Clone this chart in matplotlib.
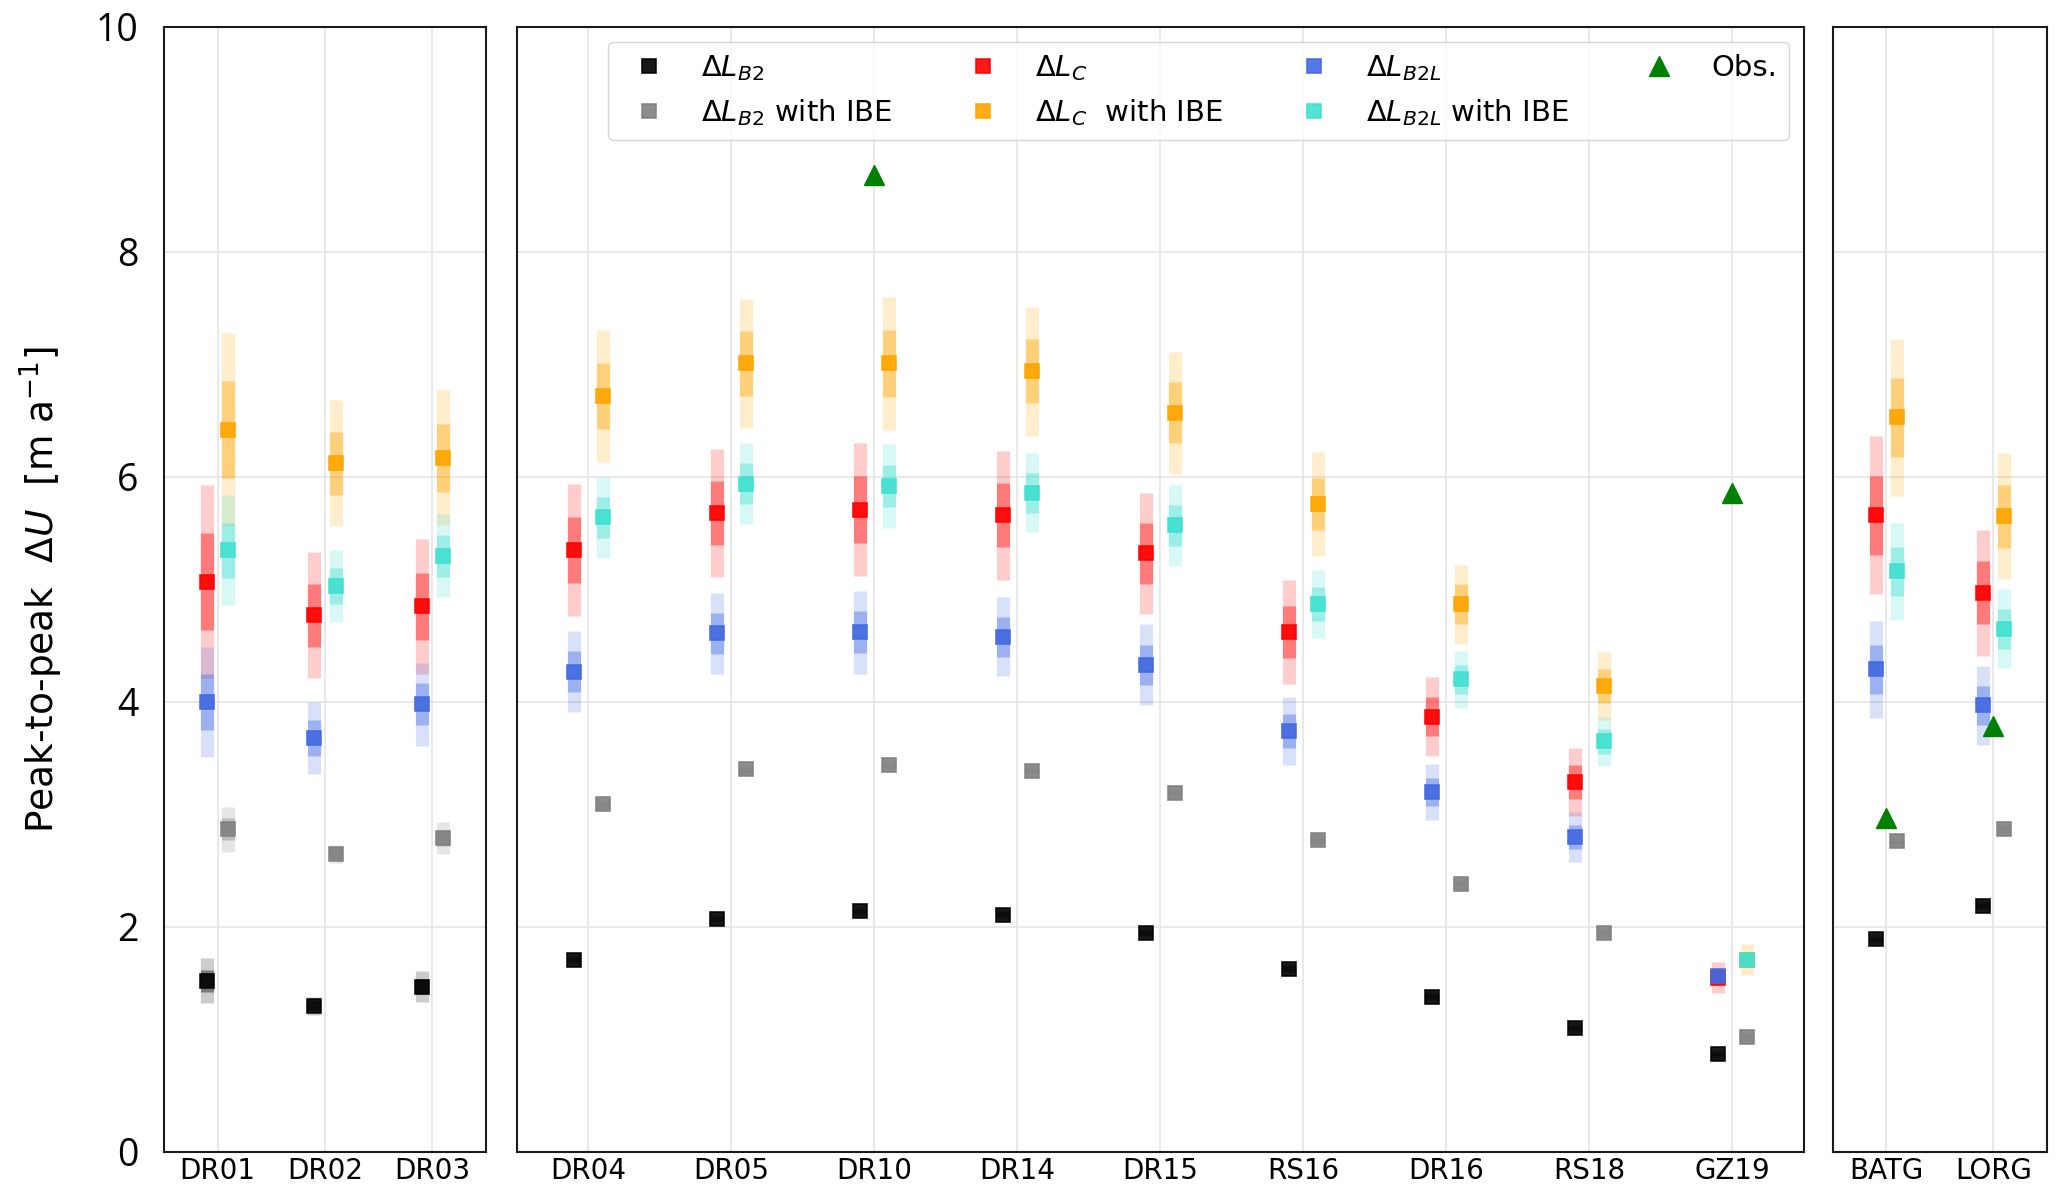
import matplotlib.pyplot as plt
import numpy as np

# sites, split over the three panels
sites_left = ['DR01', 'DR02', 'DR03']
sites_mid = ['DR04', 'DR05', 'DR10', 'DR14', 'DR15', 'RS16', 'DR16', 'RS18', 'GZ19']
sites_right = ['BATG', 'LORG']

# peak-to-peak values (m/a), same site order as above
dL_B2     = [1.52, 1.30, 1.47, 1.71, 2.07, 2.14, 2.11, 1.95, 1.63, 1.38, 1.10, 0.87, 1.89, 2.19]
dL_B2_sig = [0.10, 0.04, 0.07, 0.02, 0.02, 0.02, 0.02, 0.02, 0.02, 0.02, 0.02, 0.02, 0.02, 0.02]
dL_B2_ibe = [2.87, 2.65, 2.79, 3.09, 3.40, 3.44, 3.39, 3.19, 2.77, 2.38, 1.95, 1.02, 2.76, 2.87]

dL_C      = [5.07, 4.77, 4.85, 5.35, 5.68, 5.71, 5.66, 5.32, 4.62, 3.87, 3.29, 1.55, 5.66, 4.97]
dL_C_sig  = [0.43, 0.28, 0.30, 0.295, 0.286, 0.295, 0.286, 0.27, 0.232, 0.176, 0.15, 0.07, 0.35, 0.28]
dL_C_ibe  = [6.42, 6.12, 6.17, 6.72, 7.01, 7.01, 6.94, 6.57, 5.76, 4.87, 4.14, 1.71, 6.53, 5.65]

dL_B2L     = [4.00, 3.68, 3.98, 4.27, 4.61, 4.62, 4.58, 4.33, 3.74, 3.20, 2.80, 1.56, 4.29, 3.97]
dL_B2L_sig = [0.245, 0.16, 0.185, 0.18, 0.18, 0.185, 0.176, 0.18, 0.15, 0.125, 0.11, 0.03, 0.215, 0.175]
dL_B2L_ibe = [5.35, 5.03, 5.30, 5.64, 5.94, 5.92, 5.86, 5.57, 4.87, 4.20, 3.65, 1.71, 5.16, 4.65]

nan = np.nan
obs = [nan, nan, nan, nan, nan, 8.68, nan, nan, nan, nan, nan, 5.86, 2.97, 3.79]

# (values, sigma, colour, label, x offset)
series = [
    (dL_B2, dL_B2_sig, 'black', r'$\Delta L_{B2}$', -0.1),
    (dL_B2_ibe, dL_B2_sig, 'gray', r'$\Delta L_{B2}$ with IBE', 0.1),
    (dL_C, dL_C_sig, 'red', r'$\Delta L_{C}$', -0.1),
    (dL_C_ibe, dL_C_sig, 'orange', r'$\Delta L_{C}$  with IBE', 0.1),
    (dL_B2L, dL_B2L_sig, 'royalblue', r'$\Delta L_{B2L}$', -0.1),
    (dL_B2L_ibe, dL_B2L_sig, 'turquoise', r'$\Delta L_{B2L}$ with IBE', 0.1),
]

fig = plt.figure(figsize=(20.67, 11.99), dpi=100)
ax_l = fig.add_axes([0.0793, 0.0392, 0.1558, 0.9383])
ax_m = fig.add_axes([0.2501, 0.0392, 0.6226, 0.9383])
ax_r = fig.add_axes([0.8868, 0.0392, 0.1035, 0.9383])

panels = [
    (ax_l, sites_left, 0),
    (ax_m, sites_mid, len(sites_left)),
    (ax_r, sites_right, len(sites_left) + len(sites_mid)),
]

for ax, names, start in panels:
    n = len(names)
    sl = slice(start, start + n)
    x = np.arange(n)
    for vals, sig, col, lab, off in series:
        v = np.array(vals[sl])
        s = np.array(sig[sl])
        ax.errorbar(x + off, v, yerr=2 * s, fmt='none', ecolor=col,
                    elinewidth=9.5, alpha=0.2)
        ax.errorbar(x + off, v, yerr=s, fmt='none', ecolor=col,
                    elinewidth=9.5, alpha=0.4)
        ax.plot(x + off, v, 's', color=col, ms=10, mew=1.2, alpha=0.9,
                label=lab)
    ax.plot(x, np.array(obs[sl]), '^', color='green', ms=15, label='Obs.')

    ax.set_xlim(-0.5, n - 0.5)
    ax.set_ylim(0, 10)
    ax.set_xticks(x)
    ax.set_xticklabels(names, fontsize=20)
    ax.set_yticks([0, 2, 4, 6, 8, 10])
    ax.tick_params(axis='x', length=0, pad=3.5)
    ax.tick_params(axis='y', length=0, pad=18.5, labelsize=27)
    ax.grid(True, color='#e3e3e3', lw=1.1)
    ax.set_axisbelow(True)
    for sp in ax.spines.values():
        sp.set_linewidth(1.5)
        sp.set_color('#1a1a1a')

ax_m.tick_params(labelleft=False)
ax_r.tick_params(labelleft=False)
for t in ax_l.get_yticklabels():
    t.set_fontfamily('Open Sans')

ax_l.set_ylabel('Peak-to-peak  $\\Delta U$  [m a$^{-1}$]', fontsize=27,
                labelpad=22)

ax_m.legend(loc='upper right', ncol=4, fontsize=21, columnspacing=2.1)

fig.savefig('out.png', dpi=100)
